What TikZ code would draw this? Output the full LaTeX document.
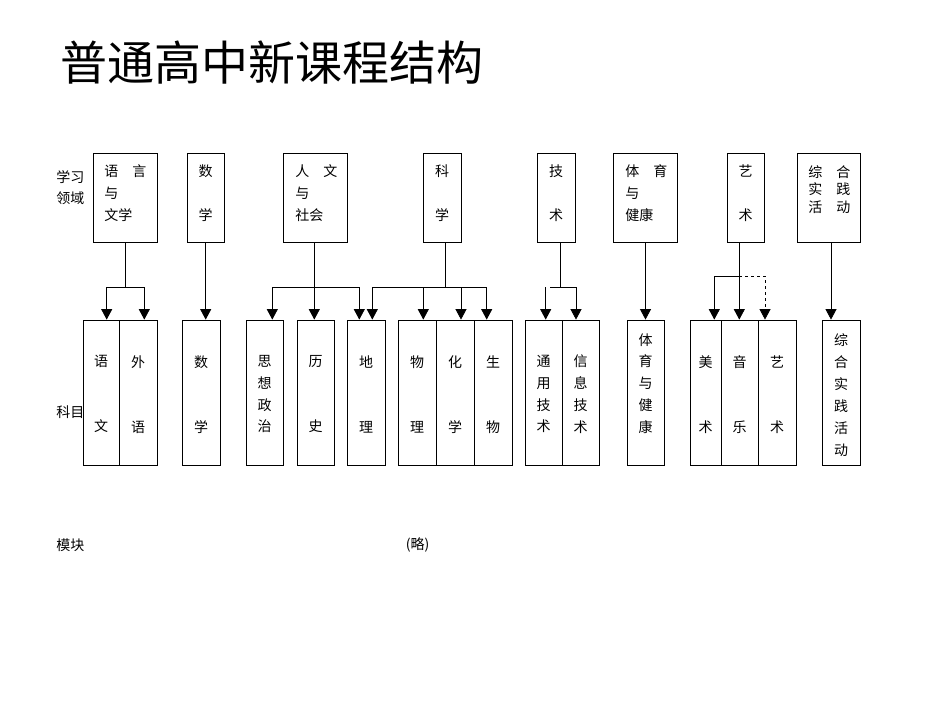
\documentclass[tikz,border=0pt]{standalone}
\usepackage{fontspec}
\newfontfamily\cjk{Noto Sans CJK SC}
\usetikzlibrary{arrows.meta}
\begin{document}
\begin{tikzpicture}[x=1pt,y=-1pt,line width=0.8pt,
  topbox/.style={draw,inner sep=0pt,minimum height=89pt,minimum width=#1},
  subbox/.style={draw,inner sep=0pt,minimum height=145pt,minimum width=#1},
  txt/.style={font=\cjk\fontsize{14}{#1}\selectfont,inner sep=0pt,align=center},
  txt/.default=21.7,
  ltxt/.style={txt=#1,align=left,anchor=west},
  ltxt/.default=21.7,
  arr/.style={-{Triangle[width=11pt,length=10.5pt]}}]
\useasboundingbox (0,0) rectangle (950,713);

% title and side labels
\node[font=\cjk\fontsize{47}{50}\selectfont,inner sep=0pt,anchor=west] (title) at (60,62.5) {普通高中新课程结构};
\node[ltxt] (lab1) at (56,187.5) {学习\\领域};
\node[ltxt] (lab2) at (56,411.7) {科目};
\node[ltxt] (lab3) at (56,545) {模块};
\node[txt] (lab4) at (417.5,545) {(略)};

% learning domains
\node[topbox=64pt] (d1) at (125,197.5) {};
\node[topbox=37pt] (d2) at (205.5,197.5) {};
\node[topbox=64pt] (d3) at (315,197.5) {};
\node[topbox=38pt] (d4) at (442,197.5) {};
\node[topbox=38pt] (d5) at (556,197.5) {};
\node[topbox=64pt] (d6) at (645,197.5) {};
\node[topbox=37pt] (d7) at (745.5,197.5) {};
\node[topbox=63pt] (d8) at (828.5,197.5) {};

\node[ltxt] (t1) at (104,193.3) {语　言\\与\\文学};
\node[txt=43.3] (t2) at (205.5,193.3) {数\\学};
\node[ltxt] (t3) at (295,193.3) {人　文\\与\\社会};
\node[txt=43.3] (t4) at (442,193.3) {科\\学};
\node[txt=43.3] (t5) at (556,193.3) {技\\术};
\node[ltxt] (t6) at (625,193.3) {体　育\\与\\健康};
\node[txt=43.3] (t7) at (745.5,193.3) {艺\\术};
\node[ltxt=17.5] (t8) at (808,189.3) {综　合\\实　践\\活　动};

% subjects
\node[subbox=36pt] (s1) at (101,392.5) {};
\node[subbox=38pt] (s2) at (138,392.5) {};
\node[subbox=38pt] (s3) at (201,392.5) {};
\node[subbox=37pt] (s4) at (264.5,392.5) {};
\node[subbox=37pt] (s5) at (315.5,392.5) {};
\node[subbox=38pt] (s6) at (366,392.5) {};
\node[subbox=38pt] (s7) at (417,392.5) {};
\node[subbox=38pt] (s8) at (455,392.5) {};
\node[subbox=38pt] (s9) at (493,392.5) {};
\node[subbox=37pt] (s10) at (543.5,392.5) {};
\node[subbox=37pt] (s11) at (580.5,392.5) {};
\node[subbox=37pt] (s12) at (645.5,392.5) {};
\node[subbox=31pt] (s13) at (705.5,392.5) {};
\node[subbox=37pt] (s14) at (739.5,392.5) {};
\node[subbox=38pt] (s15) at (777,392.5) {};
\node[subbox=38pt] (s16) at (841,392.5) {};

\node[txt=65] (u1) at (101,394.2) {语\\文};
\node[txt=65] (u2) at (138,394.2) {外\\语};
\node[txt=65] (u3) at (201,394.2) {数\\学};
\node[txt] (u4) at (264.5,394.2) {思\\想\\政\\治};
\node[txt=65] (u5) at (315.5,394.2) {历\\史};
\node[txt=65] (u6) at (366,394.2) {地\\理};
\node[txt=65] (u7) at (417,394.2) {物\\理};
\node[txt=65] (u8) at (455,394.2) {化\\学};
\node[txt=65] (u9) at (493,394.2) {生\\物};
\node[txt] (u10) at (543.5,394.2) {通\\用\\技\\术};
\node[txt] (u11) at (580.5,394.2) {信\\息\\技\\术};
\node[txt] (u12) at (645.5,383.3) {体\\育\\与\\健\\康};
\node[txt=65] (u13) at (705.5,394.2) {美\\术};
\node[txt=65] (u14) at (739.5,394.2) {音\\乐};
\node[txt=65] (u15) at (777,394.2) {艺\\术};
\node[txt=22] (u16) at (841,395) {综\\合\\实\\践\\活\\动};

% junction coordinates
\coordinate (a1L) at (106.7,287);
\coordinate (a1R) at (144.3,287);
\coordinate (c2) at (205.7,0);
\coordinate (a3L) at (272.3,287);
\coordinate (a3R) at (359.3,287);
\coordinate (c3) at (314.3,287);
\coordinate (a4s) at (445,287);
\coordinate (a4L) at (372.3,287);
\coordinate (a4P) at (423.3,287);
\coordinate (a4C) at (461,287);
\coordinate (a4R) at (486.7,287);
\coordinate (a5s) at (560,287);
\coordinate (a5L) at (550,287);
\coordinate (a5R) at (576,287);
\coordinate (a5X) at (545.7,287);
\coordinate (a7L) at (714.3,276);
\coordinate (a7M) at (739.3,276);
\coordinate (a7R) at (765,276);
\coordinate (c8) at (831,0);

% connectors
\draw (d1.south) -- (d1.south |- a1L);
\draw (a1L) -- (a1R);
\draw[arr] (a1L) -- (a1L |- s1.north);
\draw[arr] (a1R) -- (a1R |- s2.north);

\draw[arr] (d2.south -| c2) -- (s3.north -| c2);

\draw[arr] (d3.south -| c3) -- (s5.north -| c3);
\draw (a3L) -- (a3R);
\draw[arr] (a3L) -- (a3L |- s4.north);
\draw[arr] (a3R) -- (a3R |- s6.north);

\draw (d4.south -| a4s) -- (a4s);
\draw (a4L) -- (a4R);
\draw[arr] (a4L) -- (a4L |- s6.north);
\draw[arr] (a4P) -- (a4P |- s7.north);
\draw[arr] (a4C) -- (a4C |- s8.north);
\draw[arr] (a4R) -- (a4R |- s9.north);

\draw (d5.south -| a5s) -- (a5s);
\draw (a5L) -- (a5R);
\draw[arr] (a5R) -- (a5R |- s11.north);
\draw[arr] (a5X) -- (a5X |- s10.north);

\draw[arr] (d6.south -| s12.north) -- (s12.north);

\draw[arr] (d7.south -| a7M) -- (s14.north -| a7M);
\draw[arr] (a7M) -- (a7L) -- (a7L |- s13.north);
\draw[arr,dashed] (a7M) -- (a7R) -- (a7R |- s15.north);

\draw[arr] (d8.south -| c8) -- (s16.north -| c8);
\end{tikzpicture}
\end{document}
